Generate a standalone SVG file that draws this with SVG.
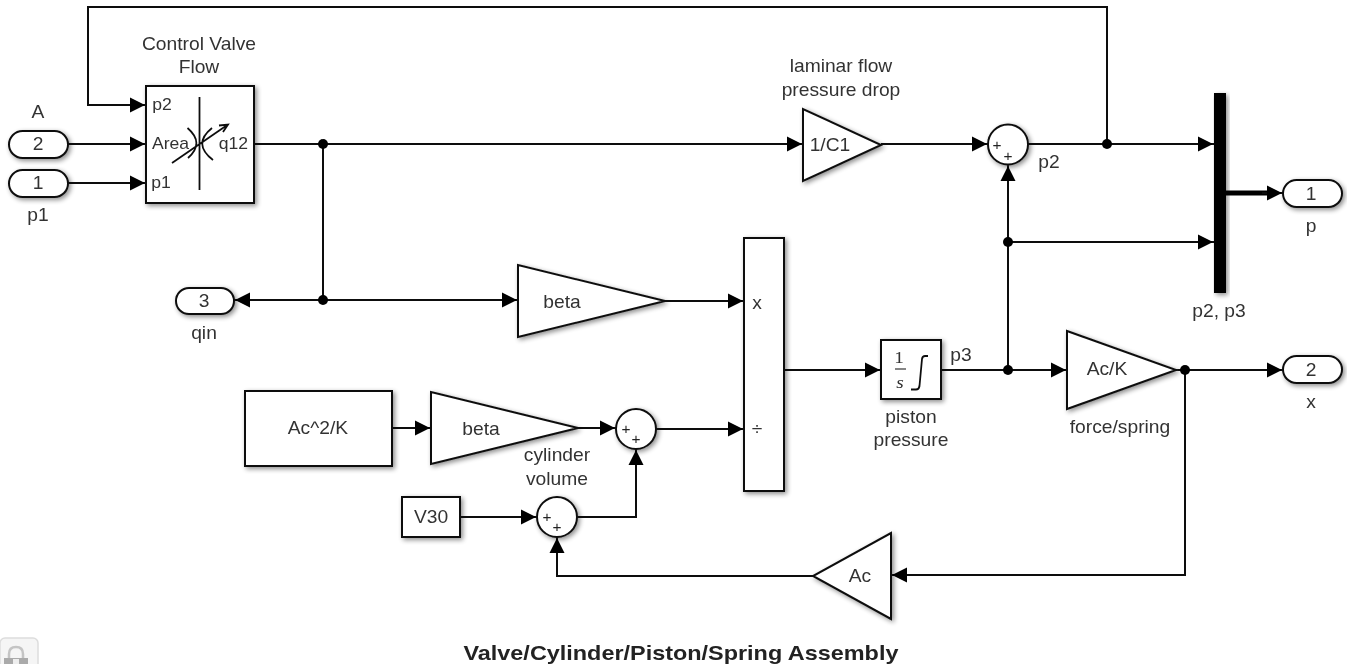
<svg xmlns="http://www.w3.org/2000/svg" width="1347" height="664" viewBox="0 0 1347 664">
<style>
text{font-family:"Liberation Sans",Arial,sans-serif;font-size:17.5px;fill:#333;text-anchor:middle;dominant-baseline:central;transform-box:fill-box;transform-origin:center;transform:scaleX(1.1)}
.b{fill:#fff;stroke:#111;stroke-width:2}
.w{fill:none;stroke:#111;stroke-width:2}
.s{font-size:16px;fill:#333}
.p{font-size:14px;fill:#222}
.t{font-weight:bold;font-size:21px;fill:#222;transform:scaleX(1.115)}
</style>
<defs>
<marker id="a" viewBox="0 0 15 15" markerUnits="userSpaceOnUse" markerWidth="15" markerHeight="15" refX="16" refY="7.500" orient="auto" overflow="visible"><path d="M0 0L15 7.500L0 15z" fill="#000"/></marker>
<filter id="sh" x="-20%" y="-20%" width="150%" height="150%"><feGaussianBlur in="SourceAlpha" stdDeviation="2.5"/><feOffset dx="2" dy="2"/><feComponentTransfer><feFuncA type="linear" slope="0.45"/></feComponentTransfer><feMerge><feMergeNode/><feMergeNode in="SourceGraphic"/></feMerge></filter>
<filter id="soft" filterUnits="userSpaceOnUse" x="0" y="0" width="1347" height="664"><feGaussianBlur stdDeviation="0.55"/></filter>
</defs>
<g filter="url(#soft)">
<g id="connectors" class="w">
<path class="w" marker-end="url(#a)" d="M1107 144V7H88V105H146"/>
<path class="w" marker-end="url(#a)" d="M68 144H146"/>
<path class="w" marker-end="url(#a)" d="M68 183H146"/>
<path class="w" marker-end="url(#a)" d="M254 144H803"/>
<path class="w" d="M323 144V300"/>
<path class="w" marker-end="url(#a)" d="M323 300H234"/>
<path class="w" marker-end="url(#a)" d="M323 300H518"/>
<path class="w" marker-end="url(#a)" d="M665 301H744"/>
<path class="w" marker-end="url(#a)" d="M881 144H988"/>
<path class="w" marker-end="url(#a)" d="M1028 144H1214"/>
<path class="w" marker-end="url(#a)" d="M784 370H881"/>
<path class="w" marker-end="url(#a)" d="M941 370H1067"/>
<path class="w" marker-end="url(#a)" d="M1008 370V165"/>
<path class="w" marker-end="url(#a)" d="M1008 242H1214"/>
<path fill="none" stroke="#000" stroke-width="5" d="M1226 193H1272"/>
<path class="w" marker-end="url(#a)" d="M1262 193H1283"/>
<path class="w" marker-end="url(#a)" d="M1176 370H1283"/>
<path class="w" marker-end="url(#a)" d="M1185 370V575H891"/>
<path class="w" marker-end="url(#a)" d="M813 576H557V537"/>
<path class="w" marker-end="url(#a)" d="M460 517H537"/>
<path class="w" marker-end="url(#a)" d="M577 517H636V449"/>
<path class="w" marker-end="url(#a)" d="M392 428H431"/>
<path class="w" marker-end="url(#a)" d="M578 428H616"/>
<path class="w" marker-end="url(#a)" d="M656 429H744"/>
<g fill="#000" stroke="none">
<circle cx="323" cy="144" r="5"/><circle cx="323" cy="300" r="5"/><circle cx="1107" cy="144" r="5"/><circle cx="1008" cy="242" r="5"/><circle cx="1008" cy="370" r="5"/><circle cx="1185" cy="370" r="5"/>
</g>
</g>
<g id="in2"><rect class="b" filter="url(#sh)" x="9" y="131" width="59" height="27" rx="13.500"/><text x="38" y="144">2</text><text x="38" y="112">A</text></g>
<g id="in1"><rect class="b" filter="url(#sh)" x="9" y="170" width="59" height="27" rx="13.500"/><text x="38" y="183">1</text><text x="38" y="215">p1</text></g>
<g id="valve"><rect class="b" filter="url(#sh)" x="146" y="86" width="108" height="117"/>
<text x="199" y="44">Control Valve</text><text x="199" y="67">Flow</text>
<text class="s" x="162" y="105">p2</text><text class="s" x="170.500" y="143.500">Area</text><text class="s" x="161" y="183">p1</text><text class="s" x="233.500" y="144">q12</text>
<path fill="none" stroke="#111" stroke-width="1.800" d="M199.500 97V190M187.500 128Q205 143 188 158M212 128Q192 144 213 160M172 163L228 124.500M219 125.500L228 124.500L223 132"/></g>
<g id="out3"><rect class="b" filter="url(#sh)" x="176" y="288" width="58" height="26" rx="13"/><text x="204" y="301">3</text><text x="204" y="333">qin</text></g>
<g id="gain1c1"><path class="b" filter="url(#sh)" d="M803 109V181L881 145z"/><text x="830" y="145">1/C1</text><text x="841" y="66">laminar flow</text><text x="841" y="90">pressure drop</text></g>
<g id="sum1"><circle class="b" filter="url(#sh)" cx="1008" cy="144.500" r="20"/><text class="p" x="997" y="145">+</text><text class="p" x="1008" y="156">+</text><text x="1049" y="162">p2</text></g>
<g id="mux"><rect x="1214" y="93" width="12" height="200" fill="#000" filter="url(#sh)"/><text x="1219" y="311">p2, p3</text></g>
<g id="out1"><rect class="b" filter="url(#sh)" x="1283" y="180" width="59" height="27" rx="13.500"/><text x="1311" y="194">1</text><text x="1311" y="226">p</text></g>
<g id="gainbeta1"><path class="b" filter="url(#sh)" d="M518 265V337L665 301z"/><text x="562" y="302">beta</text></g>
<g id="product"><rect class="b" filter="url(#sh)" x="744" y="238" width="40" height="253"/><text x="757" y="303">x</text><text x="757" y="429">÷</text></g>
<g id="integrator"><rect class="b" filter="url(#sh)" x="881" y="340" width="60" height="59"/>
<text style="font-family:'Liberation Serif',serif" x="899" y="357">1</text><path stroke="#666" stroke-width="1.600" d="M895 369H906"/><text style="font-family:'Liberation Serif',serif;font-style:italic" x="900" y="382">s</text>
<path fill="none" stroke="#111" stroke-width="1.800" d="M911 389.500H916Q919 389.500 919.500 386L922 359Q922.500 356 925 356H928"/>
<text x="961" y="355">p3</text><text x="911" y="417">piston</text><text x="911" y="440">pressure</text></g>
<g id="gainack"><path class="b" filter="url(#sh)" d="M1067 331V409L1176 370z"/><text x="1107" y="369">Ac/K</text><text x="1120" y="427">force/spring</text></g>
<g id="out2"><rect class="b" filter="url(#sh)" x="1283" y="356" width="59" height="27" rx="13.500"/><text x="1311" y="370">2</text><text x="1311" y="402">x</text></g>
<g id="gainac"><path class="b" filter="url(#sh)" d="M891 533V619L813 576z"/><text x="860" y="576">Ac</text></g>
<g id="sum3"><circle class="b" filter="url(#sh)" cx="557" cy="517" r="20"/><text class="p" x="547" y="517">+</text><text class="p" x="557" y="527">+</text></g>
<g id="v30"><rect class="b" filter="url(#sh)" x="402" y="497" width="58" height="40"/><text x="431" y="517">V30</text></g>
<g id="sum2"><circle class="b" filter="url(#sh)" cx="636" cy="429" r="20"/><text class="p" x="626" y="429">+</text><text class="p" x="636" y="439">+</text></g>
<g id="gainbeta2"><path class="b" filter="url(#sh)" d="M431 392V464L578 428z"/><text x="481" y="429">beta</text><text x="557" y="455">cylinder</text><text x="557" y="479">volume</text></g>
<g id="const"><rect class="b" filter="url(#sh)" x="245" y="391" width="147" height="75"/><text x="318" y="428">Ac^2/K</text></g>
<text class="t" x="681" y="652.500">Valve/Cylinder/Piston/Spring Assembly</text>
<g id="lock"><rect x="0" y="638" width="38" height="40" rx="5" fill="#f5f5f5" stroke="#ddd" stroke-width="1.500"/><path d="M9 658V654Q9 647 16 647Q23 647 23 654V658" fill="none" stroke="#c4c4c4" stroke-width="2.500"/><rect x="4" y="658" width="24" height="10" fill="#aaa"/><rect x="13" y="659" width="6" height="6" fill="#eee"/></g>
</g>
</svg>
